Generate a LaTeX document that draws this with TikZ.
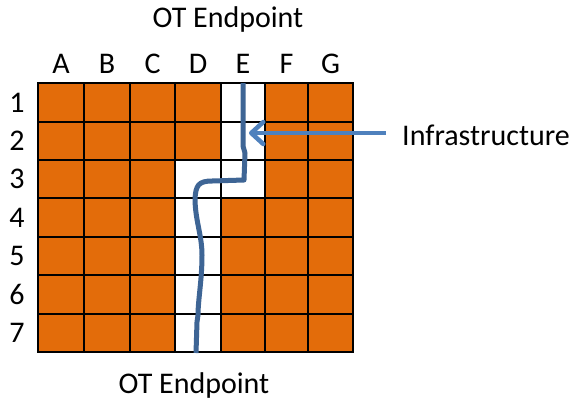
\documentclass[tikz,border=0pt]{standalone}
\usepackage{fontspec}
\setmainfont{Carlito}
\usetikzlibrary{arrows.meta}
\definecolor{cellorange}{HTML}{E36C0A}
\definecolor{wireblue}{HTML}{3E6595}
\definecolor{arrowblue}{HTML}{4F81BD}
\begin{document}
\begin{tikzpicture}[x=1pt,y=-1pt,
  lbl/.style={font=\fontsize{30}{34}\selectfont, inner sep=0pt, anchor=base},
  cellbox/.style={draw=black, line width=2.8pt},
  wire/.style={draw=wireblue, line width=5pt, line cap=butt, line join=round},
  pointer/.style={draw=arrowblue, line width=4.5pt, -{Straight Barb[length=12pt,width=22pt,round]}}]
\useasboundingbox (0,0) rectangle (569,400);
% cells
\def\xs{{38,84,130,175,221,265,308,353}}
\def\ys{{83,122,160,198,237,275,314,352}}
\foreach \c in {0,...,6}{
  \foreach \r in {0,...,6}{
    \pgfmathsetmacro{\xa}{\xs[\c]}
    \pgfmathsetmacro{\xb}{\xs[\c+1]}
    \pgfmathsetmacro{\ya}{\ys[\r]}
    \pgfmathsetmacro{\yb}{\ys[\r+1]}
    \pgfmathtruncatemacro{\white}{(\c==4 && \r<=2) || (\c==3 && \r>=2) ? 1 : 0}
    \ifnum\white=1
      \filldraw[cellbox, fill=white] (\xa,\ya) rectangle (\xb,\yb);
    \else
      \filldraw[cellbox, fill=cellorange] (\xa,\ya) rectangle (\xb,\yb);
    \fi
  }
}
% column labels
\foreach \l [count=\i from 0] in {A,B,C,D,E,F,G}{
  \pgfmathsetmacro{\xa}{\xs[\i]}
  \pgfmathsetmacro{\xb}{\xs[\i+1]}
  \pgfmathsetmacro{\xm}{(\xa+\xb)/2}
  \node[lbl] (col\l) at (\xm,73) {\l};
}
% row labels
\foreach \n [count=\i from 0] in {1,...,7}{
  \pgfmathsetmacro{\ya}{\ys[\i]}
  \pgfmathsetmacro{\yb}{\ys[\i+1]}
  \pgfmathsetmacro{\ym}{(\ya+\yb)/2+9.5}
  \node[lbl] (row\n) at (17,\ym) {\n};
}
\node[lbl] (top) at (228,27) {OT Endpoint};
\node[lbl] (bot) at (194,393) {OT Endpoint};
\node[lbl, anchor=base west] (infra) at (402,145) {Infrastructure};
% wire
\coordinate (wtop) at (243,83);
\coordinate (wbot) at (196,353);
\draw[wire] (wtop) -- (243,146) -- (245,153) -- (244,180)
  -- (212,181) .. controls (198,181) and (196,186) .. (195,198)
  .. controls (195,220) and (202,235) .. (202,255)
  .. controls (202,280) and (198,300) .. (198,315)
  -- (197,322) -- (wbot);
% pointer
\coordinate (ptip) at (249,133);
\draw[pointer] (386,133) -- (ptip);
\end{tikzpicture}
\end{document}
